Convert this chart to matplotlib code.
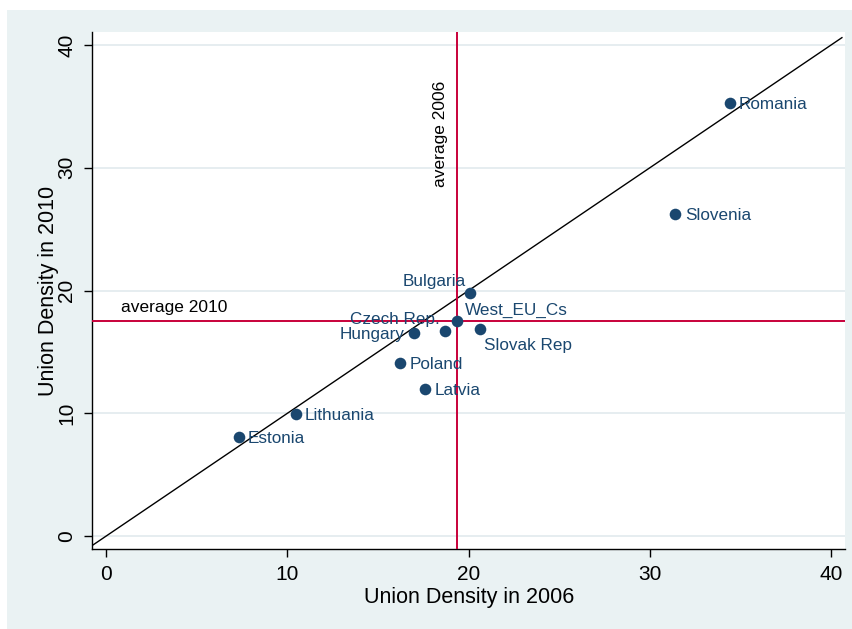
import matplotlib.pyplot as plt
from matplotlib.patches import Rectangle

plt.rcParams['font.family'] = ['Liberation Sans', 'DejaVu Sans']

# union density by country, 2006 vs 2010
countries = ['Romania', 'Slovenia', 'Bulgaria', 'West_EU_Cs', 'Slovak Rep',
             'Czech Rep.', 'Hungary', 'Poland', 'Latvia', 'Lithuania', 'Estonia']
density_2006 = [34.4, 31.4, 20.1, 19.37, 20.6, 18.7, 17.0, 16.2, 17.6, 10.45, 7.3]
density_2010 = [35.3, 26.2, 19.8, 17.54, 16.9, 16.7, 16.5, 14.1, 12.0, 9.96, 8.1]

# clock positions of the marker labels
label_pos = [3, 3, 11, 1, 5, 11, 9, 3, 3, 3, 3]

avg_2006 = 19.37
avg_2010 = 17.54

navy = '#1a476f'
red = '#c8003a'
bg = '#eaf2f3'

fig = plt.figure(figsize=(8.53, 6.29), dpi=100)
fig.patch.set_facecolor('white')
fig.patches.append(Rectangle((7 / 853, 0), 1, (629 - 10) / 629,
                             transform=fig.transFigure, facecolor=bg,
                             edgecolor='none', zorder=-10))

ax = fig.add_axes([92.3 / 853, 1 - 549 / 629, (845 - 92.3) / 853, (549 - 32) / 629])
ax.set_facecolor('white')
ax.set_xlim(-0.77, 40.77)
ax.set_ylim(-1.06, 41.06)

ticks = [0, 10, 20, 30, 40]
ax.set_xticks(ticks)
ax.set_yticks(ticks)
for t in ticks:
    ax.axhline(t, color='#e2eaed', lw=1.2, zorder=0)

# 45 degree line
ax.plot([-0.8, 40.6], [-0.8, 40.6], color='black', lw=1.0, zorder=2)

ax.axvline(avg_2006, color=red, lw=1.4, zorder=3)
ax.axhline(avg_2010, color=red, lw=1.4, zorder=3)

ax.scatter(density_2006, density_2010, s=70, color=navy, zorder=4, linewidths=0)

# offsets in pixels for each clock position
offsets = {3: (9.5, -1.5, 'left'), 9: (-10, -1, 'right'), 11: (-5, 11.5, 'right'),
           1: (8, 10, 'left'), 5: (4, -16.5, 'left')}
for name, x, y, p in zip(countries, density_2006, density_2010, label_pos):
    dx, dy, ha = offsets[p]
    ax.annotate(name, (x, y), xytext=(dx * 0.72, dy * 0.72), textcoords='offset points',
                ha=ha, va='center', fontsize=12.3, color=navy, zorder=5)

ax.text(0.8, avg_2010 + 0.5, 'average 2010', fontsize=12.5, color='black',
        ha='left', va='bottom')
ax.text(18.45, 32.8, 'average 2006', fontsize=12.5, color='black', rotation=90,
        ha='center', va='center')

for side in ['top', 'right']:
    ax.spines[side].set_visible(False)
for side in ['left', 'bottom']:
    ax.spines[side].set_linewidth(1.0)
    ax.spines[side].set_color('black')

ax.tick_params(axis='both', length=5.5, width=1.0, labelsize=15, pad=6)
plt.setp(ax.get_yticklabels(), rotation=90, va='center')

ax.set_xlabel('Union Density in 2006', fontsize=15.5, labelpad=2)
ax.set_ylabel('Union Density in 2010', fontsize=15.5, labelpad=-1)

fig.savefig('out.png', dpi=100)
